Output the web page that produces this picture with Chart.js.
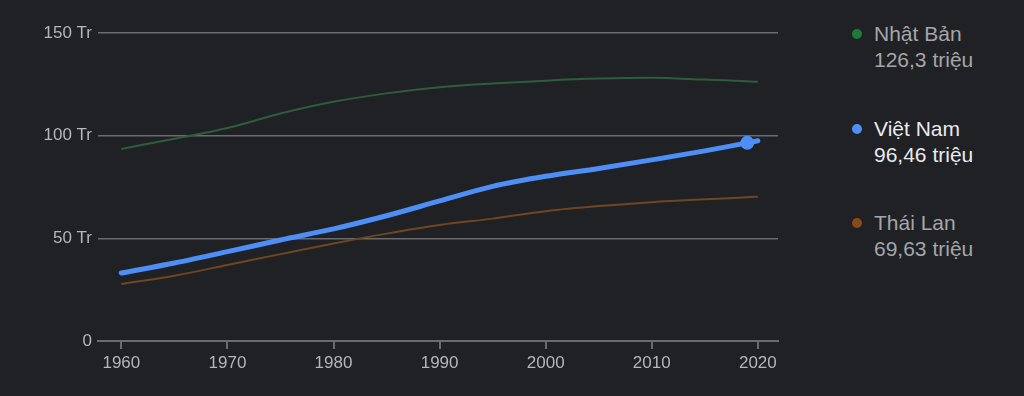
<!DOCTYPE html>
<html>
<head>
<meta charset="utf-8">
<script src="https://cdn.jsdelivr.net/npm/chart.js@4/dist/chart.umd.min.js"></script>
<style>
  html, body { margin: 0; padding: 0; background: #202124; }
  #wrap { position: relative; width: 1024px; height: 396px; overflow: hidden; }
  #chart { position: absolute; left: 0; top: 0; }
  .item { position: absolute; left: 874px; font-family: "Liberation Sans", Arial, sans-serif;
          font-size: 21px; line-height: 26px; color: #a3a6aa; white-space: nowrap; }
  .item.active { color: #e8eaed; }
  .dot { position: absolute; left: -22px; top: 8px; width: 10px; height: 10px; border-radius: 50%; }
</style>
</head>
<body>
<div id="wrap">
  <canvas id="chart" width="800" height="396"></canvas>
  <div id="legend"></div>
</div>
<script>
// Population (millions)
const years = [1960, 1965, 1970, 1975, 1980, 1985, 1990, 1995, 2000, 2005, 2010, 2015, 2019, 2020];
const japan    = [93.5, 98.5, 103.7, 110.8, 116.5, 120.6, 123.6, 125.4, 126.8, 127.8, 128.2, 127.3, 126.5, 126.2];
const vietnam  = [33.1, 38.0, 43.5, 49.2, 54.6, 61.0, 68.2, 75.3, 80.2, 84.0, 88.2, 92.6, 96.5, 97.5];
const thailand = [27.8, 31.8, 37.0, 42.3, 47.5, 52.3, 56.5, 59.6, 63.2, 65.7, 67.6, 69.0, 70.0, 70.3];

const yTicks = [0, 50, 100, 150];
const xTicks = [1960, 1970, 1980, 1990, 2000, 2010, 2020];

const legendItems = [
    { name: 'Nhật Bản', value: '126,3 triệu', color: '#1f7a37', top: 21, active: false },
    { name: 'Việt Nam', value: '96,46 triệu', color: '#4d8ef7', top: 116, active: true },
    { name: 'Thái Lan', value: '69,63 triệu', color: '#8a4a18', top: 210, active: false }
];

const toPoints = arr => years.map((y, i) => ({ x: y, y: arr[i] }));
const GRID = '#6a6b6e';
const TICK_FONT = { family: '"Liberation Sans", Arial, sans-serif', size: 17 };

const ctx = document.getElementById('chart').getContext('2d');
new Chart(ctx, {
    type: 'line',
    data: {
        datasets: [
            {
                label: 'Nhật Bản',
                data: toPoints(japan),
                borderColor: '#2e5d3a',
                borderWidth: 2,
                pointRadius: 0,
                cubicInterpolationMode: 'monotone'
            },
            {
                label: 'Thái Lan',
                data: toPoints(thailand),
                borderColor: '#6e4622',
                borderWidth: 2,
                pointRadius: 0,
                cubicInterpolationMode: 'monotone'
            },
            {
                label: 'Việt Nam',
                data: toPoints(vietnam),
                borderColor: '#4d8ef7',
                backgroundColor: '#4d8ef7',
                borderWidth: 5,
                borderCapStyle: 'round',
                pointRadius: years.map(y => y === 2019 ? 7 : 0),
                pointBorderWidth: 0,
                cubicInterpolationMode: 'monotone'
            }
        ]
    },
    options: {
        responsive: false,
        animation: false,
        layout: { padding: { top: 33, right: 22, left: 0, bottom: 0 } },
        plugins: { legend: { display: false }, tooltip: { enabled: false } },
        scales: {
            x: {
                type: 'linear',
                min: 1957.8,
                max: 2021.9,
                afterBuildTicks: scale => { scale.ticks = xTicks.map(v => ({ value: v })); },
                afterFit: scale => { scale.height = 55; },
                ticks: {
                    color: '#b4b6b9',
                    font: TICK_FONT,
                    padding: 4,
                    maxRotation: 0,
                    callback: v => String(v)
                },
                grid: { drawOnChartArea: false, drawTicks: true, tickLength: 8, color: GRID, lineWidth: 2 },
                border: { display: true, color: GRID, width: 2 }
            },
            y: {
                min: 0,
                max: 150,
                afterBuildTicks: scale => { scale.ticks = yTicks.map(v => ({ value: v })); },
                afterFit: scale => { scale.width = 98; },
                ticks: {
                    color: '#b4b6b9',
                    font: TICK_FONT,
                    padding: 6,
                    callback: v => v === 0 ? '0' : v + ' Tr'
                },
                grid: { drawTicks: false, color: GRID, lineWidth: 1.5 },
                border: { display: false }
            }
        }
    }
});

// Legend on the right
const legend = document.getElementById('legend');
legendItems.forEach(item => {
    const div = document.createElement('div');
    div.className = 'item' + (item.active ? ' active' : '');
    div.style.top = item.top + 'px';
    div.innerHTML = `<span class="dot" style="background:${item.color}"></span>${item.name}<br>${item.value}`;
    legend.appendChild(div);
});
</script>
</body>
</html>
